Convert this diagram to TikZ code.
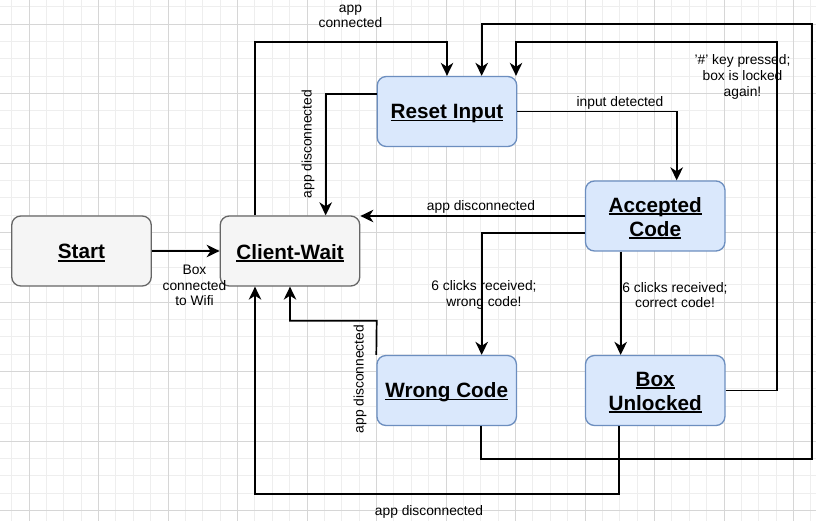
\documentclass[tikz,border=0pt]{standalone}
\usepackage{fontspec}
\setmainfont{Liberation Sans}
\usetikzlibrary{arrows.meta}
\definecolor{gridminor}{HTML}{EEEEEE}
\definecolor{gridmajor}{HTML}{D6D6D6}
\definecolor{greyfill}{HTML}{F5F5F5}
\definecolor{greyline}{HTML}{666666}
\definecolor{bluefill}{HTML}{DAE8FC}
\definecolor{blueline}{HTML}{6C8EBF}
\newcommand\ulb[1]{\raisebox{-2pt}[\height][\depth]{\setbox0=\hbox{#1}\rlap{\raisebox{-2.6pt}{\rule{\wd0}{1.5pt}}}\box0}}
\tikzset{
  statebox/.style={rectangle, rounded corners=9pt, minimum width=139.5pt, minimum height=70pt,
    line width=1.3pt, inner sep=0pt, align=center, font=\fontsize{20.7}{24}\selectfont\bfseries},
  greybox/.style={statebox, draw=greyline, fill=greyfill},
  bluebox/.style={statebox, draw=blueline, fill=bluefill},
  arr/.style={draw=black, line width=1.7pt, -{Stealth[length=13pt,width=12.5pt,inset=4pt]}},
  elabel/.style={align=center, inner sep=0pt, font=\fontsize{13.8}{15.6}\selectfont}
}
\begin{document}
\begin{tikzpicture}[x=1pt,y=-1pt]
\useasboundingbox (0,0) rectangle (816,521);
\fill[white] (0,0) rectangle (816,521);
% grid
\begin{scope}
\clip (0,0) rectangle (816,521);
\foreach \k in {-2,...,48} {
  \draw[gridminor, line width=0.8pt] ({29+17.375*\k},0) -- ({29+17.375*\k},521);
  \draw[gridminor, line width=0.8pt] (0,{24+17.375*\k}) -- (816,{24+17.375*\k});
}
\foreach \k in {-1,...,12} {
  \draw[gridmajor, line width=0.8pt] ({29+69.5*\k},0) -- ({29+69.5*\k},521);
  \draw[gridmajor, line width=0.8pt] (0,{24+69.5*\k}) -- (816,{24+69.5*\k});
}
\end{scope}
% nodes
\node[greybox] (start) at (81.5,251) {\ulb{Start}};
\node[greybox] (client) at (290,251) {\ulb{Client-Wait}};
\node[bluebox] (reset) at (447,111.5) {\ulb{Reset Input}};
\node[bluebox] (accepted) at (655.2,216) {\ulb{Accepted}\\\ulb{Code}};
\node[bluebox] (wrong) at (446.7,390.5) {\ulb{Wrong Code}};
\node[bluebox] (box) at (655.2,390.5) {\ulb{Box}\\\ulb{Unlocked}};
% edges
\draw[arr] (start) -- (client);
\node[elabel] (l1) at (194.5,285.5) {Box\\connected\\to Wifi};

\draw[arr] (client.north -| 255,0) -- (255,41.7) -| (reset.north);
\node[elabel] (l2) at (350.5,16.5) {app\\connected};

\draw[arr] (reset.west |- 0,94) -| (client.north -| 325.7,0);
\node[elabel, rotate=90] (l3) at (308,144) {app disconnected};

\draw[arr] (reset.east) -| (accepted.north -| 676.7,0);
\node[elabel] (l4) at (620,102.7) {input detected};

\draw[arr] (accepted.west |- 0,216) -- (client.east |- 0,216);
\node[elabel] (l5) at (481,207) {app disconnected};

\draw[arr] (accepted.west |- 0,233.3) -| (wrong.north -| 481.7,0);
\node[elabel] (l6) at (484,295) {6 clicks received;\\wrong code!};

\draw[arr] (accepted.south -| 620.7,0) -- (box.north -| 620.7,0);
\node[elabel] (l7) at (675,295) {6 clicks received;\\correct code!};

\draw[arr] (box.east) -| (776.7,41.7) -| (reset.north -| 516,0);
\node[elabel] (l8) at (742.5,77) {'\#' key pressed;\\box is locked\\again!};

\draw[arr] (wrong.south -| 481,0) -- (481,459.3) -- (811.7,459.3) -- (811.7,24) -| (reset.north -| 481.7,0);

\draw[arr] (box.south -| 619,0) -- (619,494.3) -| (client.south -| 255,0);
\node[elabel] (l10) at (429,511.7) {app disconnected};

\draw[arr] (wrong.north west) -- (376.7,320.7) -| (client.south);
\node[elabel, rotate=90] (l11) at (360,379) {app disconnected};
\end{tikzpicture}
\end{document}
